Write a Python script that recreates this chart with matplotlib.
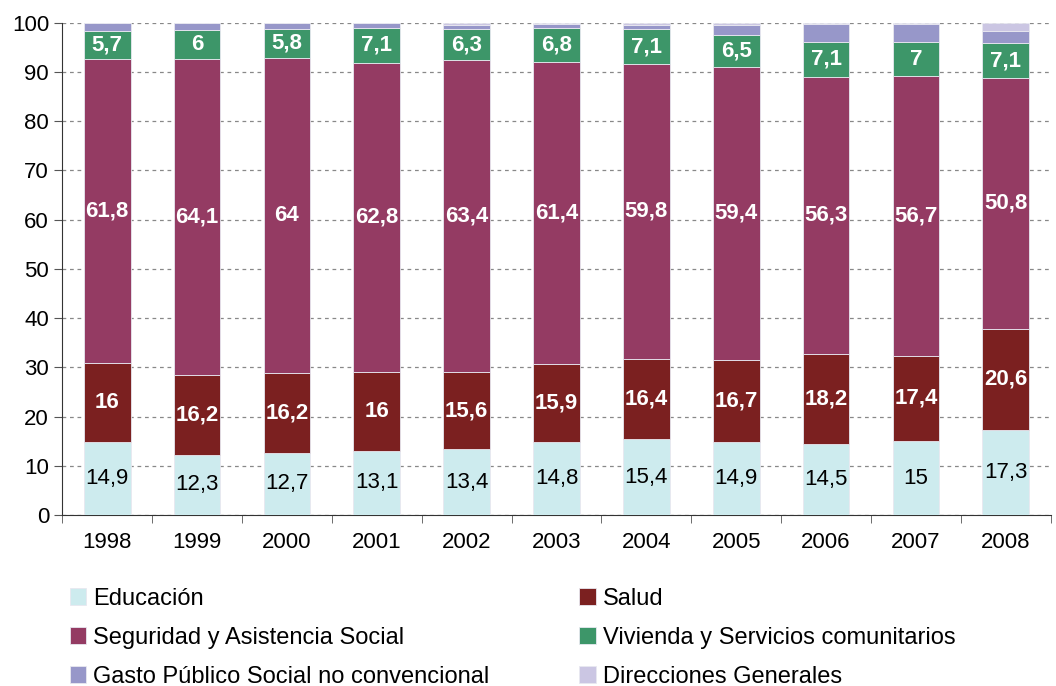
import numpy as np
import matplotlib
matplotlib.use('Agg')
import matplotlib.pyplot as plt

plt.rcParams['font.family'] = ['Liberation Sans', 'DejaVu Sans']

# ── Data ──────────────────────────────────────────────────────────────────────
years = ['1998', '1999', '2000', '2001', '2002', '2003', '2004', '2005', '2006', '2007', '2008']
educacion = [14.9, 12.3, 12.7, 13.1, 13.4, 14.8, 15.4, 14.9, 14.5, 15.0, 17.3]
salud     = [16.0, 16.2, 16.2, 16.0, 15.6, 15.9, 16.4, 16.7, 18.2, 17.4, 20.6]
seguridad = [61.8, 64.1, 64.0, 62.8, 63.4, 61.4, 59.8, 59.4, 56.3, 56.7, 50.8]
vivienda  = [5.7, 6.0, 5.8, 7.1, 6.3, 6.8, 7.1, 6.5, 7.1, 7.0, 7.1]
gasto_nc  = [1.6, 1.4, 1.3, 1.0, 0.8, 0.8, 0.9, 2.0, 3.6, 3.6, 2.6]
direcc    = [0.0, 0.0, 0.0, 0.0, 0.5, 0.3, 0.4, 0.5, 0.3, 0.3, 1.6]

series = [
    ('Educación', educacion, '#cdebee', 'black', 'normal'),
    ('Salud', salud, '#7b2020', 'white', 'bold'),
    ('Seguridad y Asistencia Social', seguridad, '#943b63', 'white', 'bold'),
    ('Vivienda y Servicios comunitarios', vivienda, '#3d9669', 'white', 'bold'),
    ('Gasto Público Social no convencional', gasto_nc, '#9797c9', None, None),
    ('Direcciones Generales', direcc, '#cbc6e3', None, None),
]

def fmt(v):
    s = f'{v:.1f}'.rstrip('0').rstrip('.')
    return s.replace('.', ',')

# ── Plot ──────────────────────────────────────────────────────────────────────
fig = plt.figure(figsize=(10.56, 6.86), dpi=100)
ax = fig.add_axes([0.059, 0.249, 0.936, 0.718])

x = np.arange(len(years))
bottom = np.zeros(len(years))
handles = []
for name, vals, color, tcol, tweight in series:
    vals = np.array(vals)
    bars = ax.bar(x, vals, 0.52, bottom=bottom, color=color,
                  edgecolor='#e8e8f0', linewidth=0.6, zorder=3, label=name)
    handles.append(bars)
    if tcol is not None:
        for xi, b, v in zip(x, bottom, vals):
            ax.text(xi, b + v / 2, fmt(v), ha='center', va='center',
                    color=tcol, fontsize=16, fontweight=tweight, zorder=4)
    bottom += vals

ax.set_xlim(-0.5, len(years) - 0.5)
ax.set_ylim(0, 100)
ax.set_yticks(range(0, 101, 10))
ax.set_xticks(x)
ax.set_xticklabels(years)
ax.set_xticks(np.arange(-0.5, len(years), 1), minor=True)
ax.tick_params(axis='x', which='major', length=0, pad=12, labelsize=16)
ax.tick_params(axis='x', which='minor', length=6, direction='out', color='#555555')
ax.tick_params(axis='y', length=6, direction='out', labelsize=16, color='#555555')
ax.yaxis.grid(True, linestyle=(0, (3, 3)), color='#888888', linewidth=0.9, zorder=0)
ax.set_axisbelow(True)
for side in ['top', 'right']:
    ax.spines[side].set_visible(False)
ax.spines['left'].set_color('#333333')
ax.spines['bottom'].set_color('#333333')

# legend: two columns, row-wise order
order = [0, 2, 4, 1, 3, 5]
leg = fig.legend([handles[i] for i in order], [series[i][0] for i in order],
                 loc='upper left', ncol=2,
                 frameon=False, fontsize=17, handlelength=0.7, handleheight=0.7,
                 handletextpad=0.3, columnspacing=3.8, labelspacing=0.72,
                 borderaxespad=0, borderpad=0)
leg.set_bbox_to_anchor((0.066, 0.143), transform=fig.transFigure)

plt.savefig('out.png', dpi=100)
